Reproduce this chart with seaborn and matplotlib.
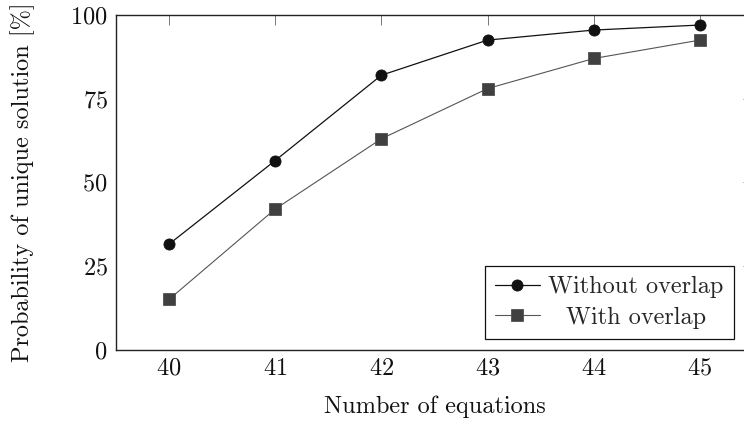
import matplotlib
matplotlib.use("Agg")
import matplotlib.pyplot as plt
import seaborn as sns
import pandas as pd

equations = [40, 41, 42, 43, 44, 45]
without_overlap = [31.5, 56.5, 82.0, 92.5, 95.5, 97.0]
with_overlap = [15.0, 42.0, 63.0, 78.0, 87.0, 92.5]
y_ticks = [0, 25, 50, 75, 100]
series_names = ["Without overlap", "With overlap"]

sns.set_theme(style="white")
plt.rcParams["font.family"] = ["cmr10", "DejaVu Serif"]
plt.rcParams["mathtext.fontset"] = "cm"
plt.rcParams["axes.formatter.use_mathtext"] = True

df = pd.DataFrame({
    "x": equations * 2,
    "y": without_overlap + with_overlap,
    "series": [series_names[0]] * len(equations) + [series_names[1]] * len(equations),
})

fig = plt.figure(figsize=(7.44, 4.24), dpi=100)
ax = fig.add_axes([116 / 744, (424 - 349.5) / 424, 637 / 744, 334.5 / 424])

fs = 17.5
styles = {
    series_names[0]: dict(marker="o", color="#111111", lw=0.9, mfc="#111111", mec="#111111"),
    series_names[1]: dict(marker="s", color="#555555", lw=0.8, mfc="#404040", mec="#505050"),
}
for name in series_names:
    sub = df[df["series"] == name]
    st = styles[name]
    sns.lineplot(data=sub, x="x", y="y", ax=ax, label=name, color=st["color"],
                 linewidth=st["lw"], marker=st["marker"], markersize=8,
                 markerfacecolor=st["mfc"], markeredgecolor=st["mec"], markeredgewidth=0.6)

ax.set_xlim(39.5, 45.5)
ax.set_ylim(0, 100)
ax.set_xticks(equations)
ax.set_yticks(y_ticks)
ax.tick_params(direction="in", length=7.2, width=0.7, color="#777777",
               top=True, right=True, labelsize=fs, pad=6, labelcolor="#111111")
for s in ax.spines.values():
    s.set_color("#222222")
    s.set_linewidth(1.0)
    s.set_visible(True)

ax.set_xlabel("Number of equations", fontsize=fs, labelpad=11, color="#111111")
ax.set_ylabel("Probability of unique solution [%]", fontsize=fs, labelpad=25, color="#111111")

leg = ax.legend(loc="lower right", bbox_to_anchor=(0.970, 0.031), borderaxespad=0,
                fontsize=fs, frameon=True, fancybox=False, framealpha=1,
                edgecolor="#111111", handlelength=1.85, handletextpad=0.35,
                labelspacing=0.35, borderpad=0.42)
leg.get_frame().set_linewidth(0.9)

fig.canvas.draw()
r = fig.canvas.get_renderer()
w = [t.get_window_extent(r).width for t in leg.get_texts()]
wmax = max(w)
for t, wi in zip(leg.get_texts(), w):
    t.set_x((wmax - wi) / 2)

fig.savefig("out.png", dpi=100)
